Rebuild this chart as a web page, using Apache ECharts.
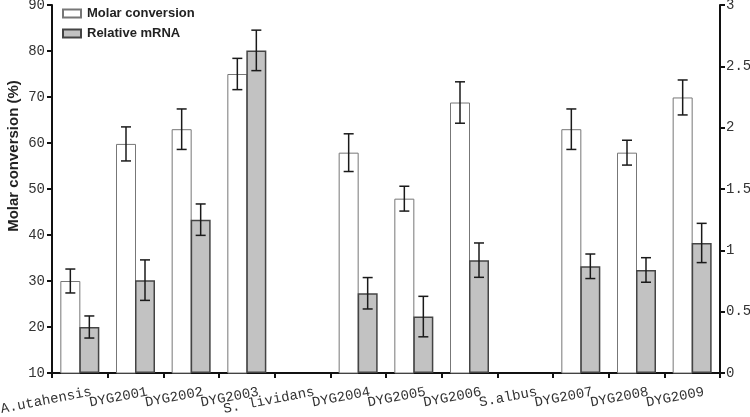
<!DOCTYPE html>
<html>
<head>
<meta charset="utf-8">
<script src="https://cdn.jsdelivr.net/npm/echarts@6/dist/echarts.min.js"></script>
<style>
  html, body { margin: 0; padding: 0; background: #fff; }
  #chart { width: 750px; height: 417px; }
</style>
</head>
<body>
<div id="chart"></div>
<script>
const categories = ['A.utahensis', 'DYG2001', 'DYG2002', 'DYG2003', 'S. lividans', 'DYG2004',
  'DYG2005', 'DYG2006', 'S.albus', 'DYG2007', 'DYG2008', 'DYG2009']

// molar conversion (%), left axis
const molar = [30, 59.8, 63, 75, null, 57.9, 47.9, 68.8, null, 63, 57.9, 69.9]
const molarErr = [2.6, 3.7, 4.4, 3.4, null, 4.1, 2.7, 4.5, null, 4.4, 2.7, 3.8]

// relative mRNA, right axis
const mrna = [0.375, 0.757, 1.25, 2.63, null, 0.65, 0.46, 0.92, null, 0.87, 0.84, 1.06]
const mrnaErr = [0.09, 0.165, 0.128, 0.165, null, 0.128, 0.165, 0.14, null, 0.1, 0.1, 0.16]

const leftTicks = { min: 10, max: 90, interval: 10 }
const rightTicks = { min: 0, max: 3, interval: 0.5 }

const BAR_W = 20
const tickFont = { fontFamily: 'Liberation Mono', fontSize: 14, color: '#333' }

function errorData(vals, errs) {
  const out = []
  vals.forEach((v, i) => {
    if (v != null) out.push([i, v, errs[i]])
  })
  return out
}

function errorBar(shift) {
  return function (params, api) {
    const i = api.value(0)
    const v = api.value(1)
    const e = api.value(2)
    const hi = api.coord([i, v + e])
    const lo = api.coord([i, v - e])
    const x = hi[0] + shift
    const cap = 5
    const style = { stroke: '#1a1a1a', lineWidth: 1.5 }
    return {
      type: 'group',
      children: [
        { type: 'line', shape: { x1: x, y1: hi[1], x2: x, y2: lo[1] }, style },
        { type: 'line', shape: { x1: x - cap, y1: hi[1], x2: x + cap, y2: hi[1] }, style },
        { type: 'line', shape: { x1: x - cap, y1: lo[1], x2: x + cap, y2: lo[1] }, style },
      ],
    }
  }
}

const chart = echarts.init(document.getElementById('chart'))

chart.setOption({
  backgroundColor: '#fff',
  animation: false,
  grid: { left: 52, right: 30, top: 5, bottom: 44, outerBoundsMode: 'none' },
  legend: {
    orient: 'vertical',
    left: 62,
    top: 7,
    padding: 0,
    itemWidth: 18,
    itemHeight: 8,
    itemGap: 7,
    icon: 'rect',
    textStyle: {
      fontFamily: 'Liberation Sans', fontSize: 13, fontWeight: 'bold', color: '#222',
      padding: [0, 0, 0, 1],
    },
    data: ['Molar conversion', 'Relative mRNA'],
  },
  xAxis: {
    type: 'category',
    data: categories,
    boundaryGap: true,
    axisLine: { show: true, lineStyle: { color: '#111', width: 2 } },
    axisTick: { show: true, length: 5, lineStyle: { color: '#111', width: 2 } },
    axisLabel: {
      ...tickFont,
      interval: 0,
      rotate: 11,
      margin: 21,
      // push each label past the band centre, like the original
      padding: [0, -12, 0, 0],
    },
    splitLine: { show: false },
  },
  yAxis: [
    {
      type: 'value',
      ...leftTicks,
      name: 'Molar conversion (%)',
      nameLocation: 'middle',
      nameRotate: 90,
      nameGap: 31,
      nameMoveOverlap: false,
      nameTextStyle: {
        fontFamily: 'Liberation Sans', fontSize: 15, fontWeight: 'bold', color: '#222',
        padding: [0, 0, 0, 66],
      },
      axisLine: { show: true, lineStyle: { color: '#111', width: 2 } },
      axisTick: { show: true, length: 5, lineStyle: { color: '#111', width: 2 } },
      axisLabel: { ...tickFont, margin: 7 },
      splitLine: { show: false },
    },
    {
      type: 'value',
      ...rightTicks,
      position: 'right',
      axisLine: { show: true, lineStyle: { color: '#111', width: 2 } },
      axisTick: { show: true, length: 5, lineStyle: { color: '#111', width: 2 } },
      axisLabel: { ...tickFont, margin: 6 },
      splitLine: { show: false },
    },
  ],
  series: [
    {
      name: 'Molar conversion',
      type: 'bar',
      yAxisIndex: 0,
      barWidth: BAR_W,
      barGap: '-5%',
      clip: true,
      itemStyle: { color: '#fff', borderColor: '#777', borderWidth: 1 },
      data: molar.map(v => (v == null ? '-' : v)),
    },
    {
      name: 'Relative mRNA',
      type: 'bar',
      yAxisIndex: 1,
      barWidth: BAR_W,
      clip: true,
      itemStyle: { color: '#c2c2c2', borderColor: '#444', borderWidth: 1.5 },
      data: mrna.map(v => (v == null ? '-' : v)),
    },
    {
      type: 'custom',
      yAxisIndex: 0,
      renderItem: errorBar(-BAR_W / 2 + 0.5),
      encode: { x: 0, y: 1 },
      data: errorData(molar, molarErr),
      z: 5,
    },
    {
      type: 'custom',
      yAxisIndex: 1,
      renderItem: errorBar(BAR_W / 2 - 0.5),
      encode: { x: 0, y: 1 },
      data: errorData(mrna, mrnaErr),
      z: 5,
    },
  ],
})
</script>
</body>
</html>
